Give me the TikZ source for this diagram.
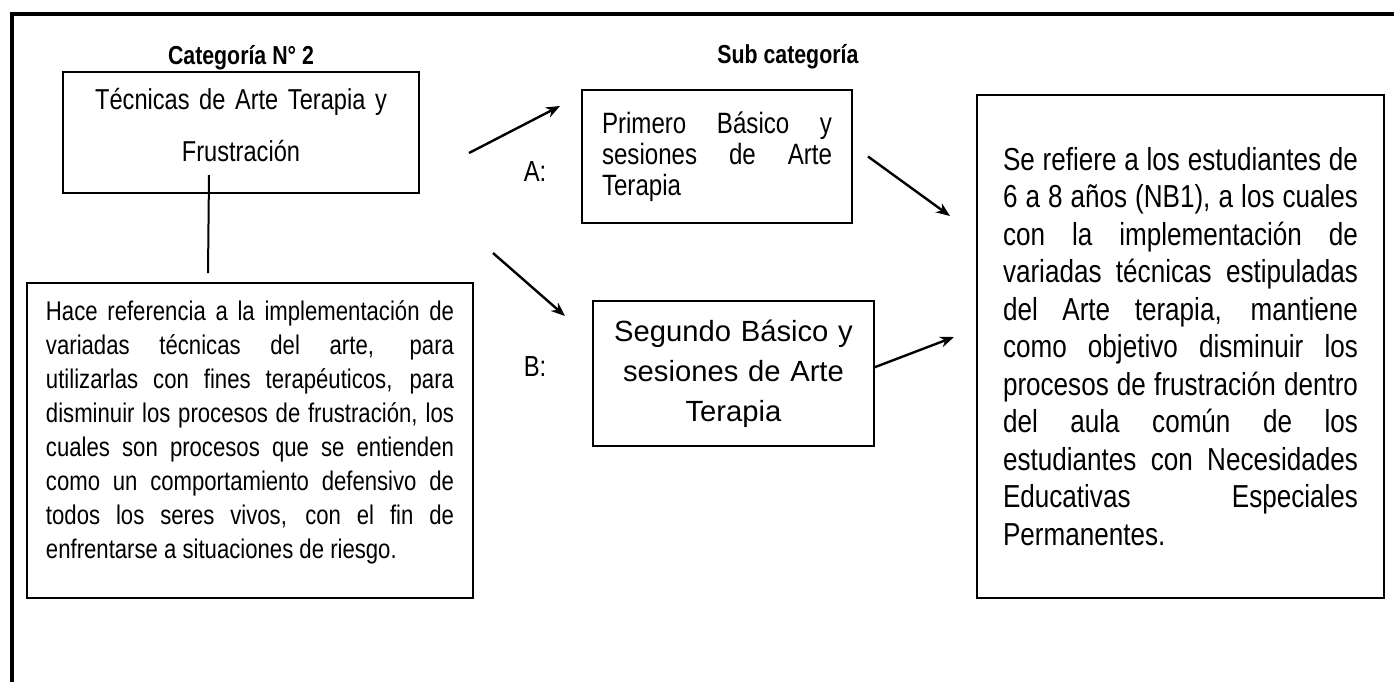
\documentclass[tikz,border=0pt]{standalone}
\usepackage{fontspec}
\setmainfont{Liberation Sans}[FakeStretch=0.82]
\newfontfamily\widefont{Liberation Sans}

\usetikzlibrary{calc,positioning,arrows.meta}

\newcommand{\boxfont}[2]{\fontsize{#1}{#2}\selectfont\hyphenpenalty=10000\tolerance=10000}
% extra room under the text, so that it sits higher in its box
\newcommand{\padbelow}[1]{\par\vspace*{#1}\hrule height 0pt}

\begin{document}
\begin{tikzpicture}[x=0.5pt,y=-0.5pt,
  box/.style={draw,line width=1pt,rectangle,inner sep=0pt,outer sep=0pt},
  arr/.style={-{Stealth[length=7pt,width=5.5pt]},line width=1.2pt},
  title/.style={inner sep=0pt,font=\fontsize{13}{15}\selectfont\bfseries},
  lbl/.style={inner sep=0pt,font=\fontsize{14.5}{16}\selectfont}]

        \useasboundingbox (0,0) rectangle (1394,682);
        \draw[line width=2pt] (11.5,682) -- (11.5,14) -- (1394,14);

        \node (cat) [box,minimum width=178pt,minimum height=60.5pt,text width=170pt,align=center,
          font=\boxfont{14.4}{26}] at (241,132.5)
          {Técnicas de Arte Terapia y\\Frustración\padbelow{7pt}};
        \node (cattitle) [above = 1pt of cat,title] {Categoría N° 2};

        \node (desc) [box,minimum width=223pt,minimum height=157.5pt,text width=204pt,align=justify,
          font=\boxfont{13.5}{17}] at (250,440.5)
          {Hace referencia a la implementación de\linebreak
           variadas técnicas del arte, para\linebreak
           utilizarlas con fines terapéuticos, para\linebreak
           disminuir los procesos de frustración, los\linebreak
           cuales son procesos que se entienden\linebreak
           como un comportamiento defensivo de\linebreak
           todos los seres vivos, con el fin de\linebreak
           enfrentarse a situaciones de riesgo.\padbelow{8pt}};

        \node (boxA) [box,minimum width=135pt,minimum height=66.5pt,text width=115pt,align=justify,
          font=\boxfont{14.7}{15.5}] at (717,156.5)
          {Primero Básico y\linebreak sesiones de Arte\linebreak Terapia};
        \node (subtitle) [title,anchor=west] at (717,57) {Sub categoría};

        \node (boxB) [box,minimum width=140.5pt,minimum height=72.5pt,text width=130pt,align=center,
          font=\widefont\boxfont{14.6}{20}] at (733.5,373.5)
          {Segundo Básico y\\sesiones de Arte\\Terapia};

        \node (res) [box,minimum width=203.5pt,minimum height=251.5pt,text width=177.5pt,align=justify,
          font=\boxfont{15.9}{18.75}] at (1180.5,346.5)
          {Se refiere a los estudiantes de\linebreak
           6 a 8 años (NB1), a los cuales\linebreak
           con la implementación de\linebreak
           variadas técnicas estipuladas\linebreak
           del Arte terapia, mantiene\linebreak
           como objetivo disminuir los\linebreak
           procesos de frustración dentro\linebreak
           del aula común de los\linebreak
           estudiantes con Necesidades\linebreak
           Educativas Especiales\linebreak
           Permanentes.};

        \node (la) [lbl] at (535,172) {A:};
        \node (lb) [lbl] at (535,367) {B:};

        % links
        \draw[line width=1pt] ($(cat.south)+(-32,-18)$) -- ($(desc.north)+(-42,-10)$);
        \draw[arr] ($(cat.east)+(50,20.5)$) -- ($(boxA.west)+(-22,-50.5)$);
        \draw[arr] ($(cat.south east)+(74,60)$) -- ($(boxB.north west)+(-28,15)$);
        \draw[arr] ($(boxA.east)+(16,0)$) -- ($(res.north west)+(-27,121)$);
        \draw[arr] ($(boxB.east)+(0,-6)$) -- ($(res.west)+(-23,-9.5)$);
      \end{tikzpicture}
\end{document}
